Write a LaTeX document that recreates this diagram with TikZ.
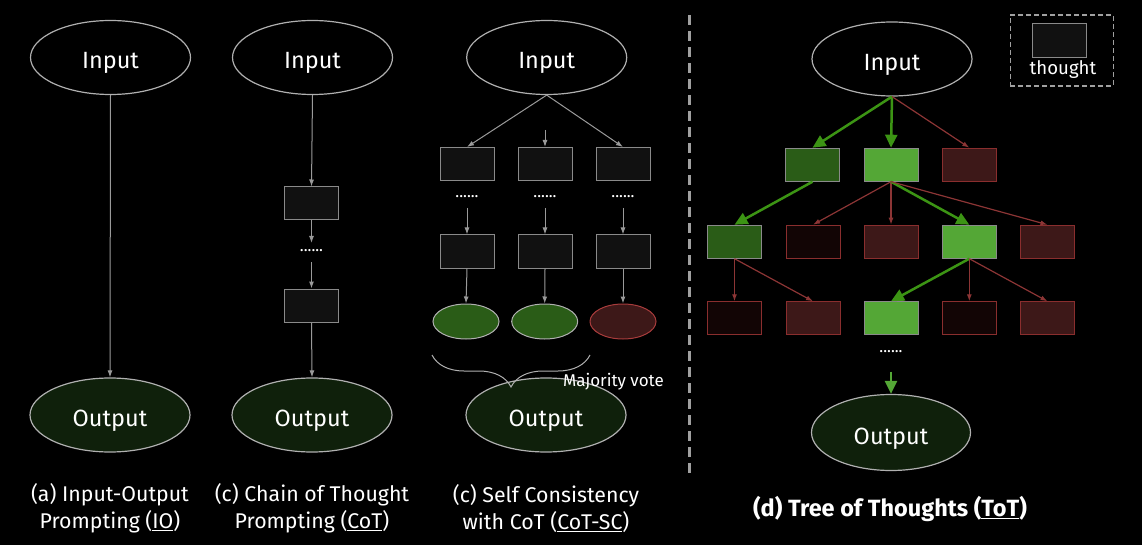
\documentclass[tikz,border=0pt]{standalone}
\usepackage{fontspec}
\setmainfont{Fira Sans}
\usetikzlibrary{arrows.meta,shapes.geometric,decorations.pathreplacing}
\definecolor{boxfill}{HTML}{111111}
\definecolor{boxgray}{HTML}{8A8A8A}
\definecolor{linegray}{HTML}{9A9A9A}
\definecolor{ellgray}{HTML}{B0B0B0}
\definecolor{outgreen}{HTML}{0F200B}
\definecolor{dkgreen}{HTML}{2A5C17}
\definecolor{ltgreen}{HTML}{54A736}
\definecolor{dkred}{HTML}{3D1818}
\definecolor{vdkred}{HTML}{120505}
\definecolor{redborder}{HTML}{8A2E2E}
\definecolor{lnred}{HTML}{8C3535}
\definecolor{arrgreen}{HTML}{3C9414}
\definecolor{votered}{HTML}{A83C3C}
\definecolor{dashgray}{HTML}{A0A0A0}
\begin{document}
\begin{tikzpicture}[x=1pt,y=-1pt,
  bigell/.style={ellipse, draw=ellgray, line width=1.2pt, minimum width=160pt, minimum height=74pt, inner sep=0pt, text=white, font=\fontsize{23.5}{26}\selectfont, text height=23pt, text depth=0pt},
  inell/.style={bigell, fill=black},
  outell/.style={bigell, fill=outgreen},
  thbox/.style={draw=boxgray, fill=boxfill, line width=1pt, minimum width=54pt, minimum height=33pt, inner sep=0pt},
  gbox/.style={thbox, fill=dkgreen},
  lbox/.style={thbox, fill=ltgreen},
  rbox/.style={thbox, draw=redborder, fill=dkred},
  vbox/.style={thbox, draw=redborder, fill=vdkred},
  dotnode/.style={text=white, font=\fontsize{16}{16}\selectfont, inner sep=1pt},
  captext/.style={text=white, align=center, font=\fontsize{21.3}{27}\selectfont},
  gar/.style={draw=linegray, line width=1pt, -{Latex[length=7pt,width=5pt]}},
  grn/.style={draw=arrgreen, line width=2.5pt, -{Triangle[length=13pt,width=12pt]}},
  redln/.style={draw=lnred, line width=1.2pt, -{Latex[length=7pt,width=5pt]}},
  vote/.style={ellipse, draw=ellgray, line width=1pt, minimum width=66pt, minimum height=35pt, inner sep=0pt, fill=dkgreen}
]
\fill[black] (0,0) rectangle (1142,545);
\useasboundingbox (0,0) rectangle (1142,545);

% (a) IO
\node[inell] (ina) at (110.5,57.5) {Input};
\node[outell] (outa) at (110,415) {Output};
\draw[gar] (ina.south) -- (outa.north);
\node[captext] (capa) at (110,508.5) {(a) Input-Output\\Prompting (\underline{IO})};

% (b) CoT
\node[inell] (inb) at (312.5,57.5) {Input};
\node[thbox] (b1) at (311.5,203.5) {};
\node[dotnode] (bd) at (311.5,251) {......};
\node[thbox] (b2) at (311.5,305.5) {};
\node[outell] (outb) at (312,415) {Output};
\draw[gar] (inb.south) -- (b1.north);
\draw[gar] (b1.south) -- (311.5,243);
\draw[gar] (311.5,262) -- (b2.north);
\draw[gar] (b2.south) -- (outb.north);
\node[captext] (capb) at (312,508.5) {(c) Chain of Thought\\Prompting (\underline{CoT})};

% (c) CoT-SC
\node[inell] (inc) at (546.7,57.5) {Input};
\node[thbox] (c11) at (467,164) {};
\node[thbox] (c12) at (545,164) {};
\node[thbox] (c13) at (623,164) {};
\node[dotnode] (cd1) at (467,197) {......};
\node[dotnode] (cd2) at (545,197) {......};
\node[dotnode] (cd3) at (623,197) {......};
\node[thbox] (c21) at (467,251.5) {};
\node[thbox] (c22) at (545,251.5) {};
\node[thbox] (c23) at (623,251.5) {};
\node[vote] (v1) at (466,321.5) {};
\node[vote] (v2) at (544.7,321.5) {};
\node[vote, draw=votered, fill=dkred] (v3) at (623,321.5) {};
\node[outell] (outc) at (546,415) {Output};
\coordinate (cm) at (545,130);
\draw[gar] (inc.south) -- (c11.north);
\draw[gar] (cm) -- (c12.north);
\draw[gar] (inc.south) -- (c13.north);
\draw[gar] (467,208) -- (c21.north);
\draw[gar] (545,208) -- (c22.north);
\draw[gar] (623,208) -- (c23.north);
\draw[gar] (c21.south) -- (v1.north);
\draw[gar] (c22.south) -- (v2.north);
\draw[gar] (c23.south) -- (v3.north);
\draw[draw=ellgray, line width=1pt, decorate, decoration={brace, mirror, amplitude=32pt}] (432,355) -- (590,355);
\node[text=white, font=\fontsize{17}{17}\selectfont, anchor=west, inner sep=0pt] (mv) at (563,382) {Majority vote};
\node[captext] (capc) at (546,508.5) {(c) Self Consistency\\with CoT (\underline{CoT-SC})};

% divider
\draw[dashgray, line width=2.5pt, dash pattern=on 10pt off 6pt] (689.3,15) -- (689.3,478);

% (d) ToT
\node[inell] (ind) at (892,59) {Input};
\node[gbox] (dA) at (812.5,164.7) {};
\node[lbox] (dB) at (891,164.7) {};
\node[rbox] (dC) at (969.3,164.7) {};
\node[gbox] (e1) at (734.5,241.7) {};
\node[vbox] (e2) at (813,241.7) {};
\node[rbox] (e3) at (891,241.7) {};
\node[lbox] (e4) at (969.3,241.7) {};
\node[rbox] (e5) at (1047.5,241.7) {};
\node[vbox] (f1) at (734.5,318.3) {};
\node[rbox] (f2) at (813,318.3) {};
\node[lbox] (f3) at (891,318.3) {};
\node[vbox] (f4) at (969.3,318.3) {};
\node[rbox] (f5) at (1047.5,318.3) {};
\node[dotnode] (dd) at (891,352) {......};
\node[outell, minimum width=159pt, minimum height=76pt] (outd) at (891,432.5) {Output};
\draw[grn] (ind.south) -- (dA.north);
\draw[grn] (ind.south) -- (dB.north);
\draw[redln] (ind.south) -- (dC.north);
\draw[grn] (dA.south) -- (e1.north);
\draw[redln] (dB.south) -- (e2.north);
\draw[redln] (dB.south) -- (e3.north);
\draw[grn] (dB.south) -- (e4.north);
\draw[redln] (dB.south) -- (e5.north);
\draw[redln] (e1.south) -- (f1.north);
\draw[redln] (e1.south) -- (f2.north);
\draw[grn] (e4.south) -- (f3.north);
\draw[redln] (e4.south) -- (f4.north);
\draw[redln] (e4.south) -- (f5.north);
\draw[draw=ltgreen, line width=2.5pt, -{Triangle[length=13pt,width=12pt]}] (891,371.7) -- (outd.north);
\node[text=white, font=\bfseries\fontsize{23.5}{26}\selectfont] (capd) at (890,509) {(d) Tree of Thoughts (\underline{ToT})};

% legend
\node[draw=dashgray, line width=1.2pt, dash pattern=on 5pt off 3pt, minimum width=103pt, minimum height=71pt, inner sep=0pt] (leg) at (1061.7,50.5) {};
\node[thbox, minimum height=34pt] (legbox) at (1059.5,40.3) {};
\node[text=white, font=\fontsize{18.6}{19}\selectfont] (legtxt) at (1063,70) {thought};
\end{tikzpicture}
\end{document}
